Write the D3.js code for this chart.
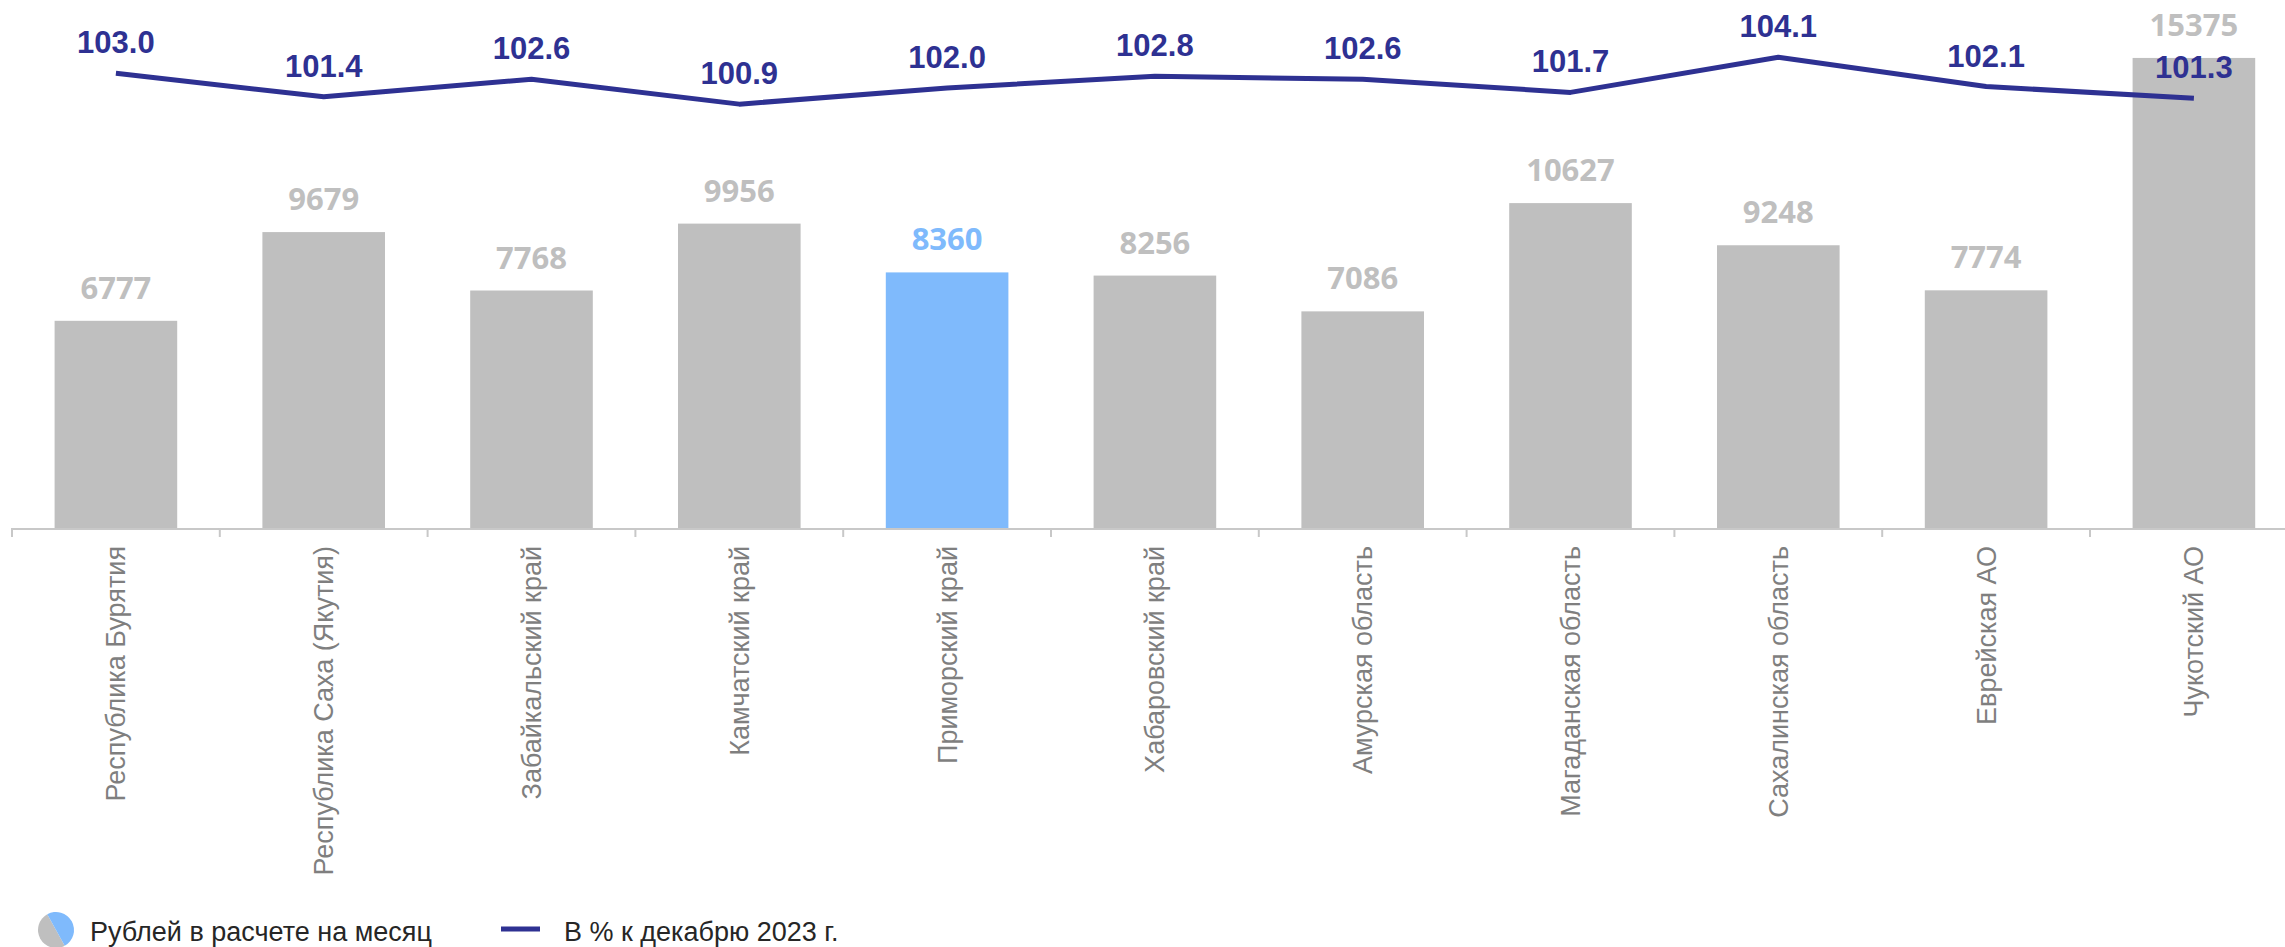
<!DOCTYPE html>
<html lang="ru">
<head>
<meta charset="utf-8">
<title>Рублей в расчете на месяц</title>
<script src="https://cdn.jsdelivr.net/npm/d3@7"></script>
<style>
  html, body { margin: 0; padding: 0; background: #fff; }
  svg { display: block; }
</style>
</head>
<body>
<script>
var regions = ["Республика Бурятия", "Республика Саха (Якутия)", "Забайкальский край", "Камчатский край",
               "Приморский край", "Хабаровский край", "Амурская область", "Магаданская область",
               "Сахалинская область", "Еврейская АО", "Чукотский АО"];
var rubles = [6777, 9679, 7768, 9956, 8360, 8256, 7086, 10627, 9248, 7774, 15375];
var percentDec = [103.0, 101.4, 102.6, 100.9, 102.0, 102.8, 102.6, 101.7, 104.1, 102.1, 101.3];
var highlight = "Приморский край";
var legendLabels = ["Рублей в расчете на месяц", "В % к декабрю 2023 г."];

var width = 2285, height = 947;
var baseY = 528;
var gray = "#bfbfbf", blue = "#7fbafc", navy = "#2e3192";

var svg = d3.select("body").append("svg")
    .attr("width", width)
    .attr("height", height);

var x = d3.scaleBand()
    .domain(regions)
    .range([12, 12 + 11 * 207.8])
    .paddingInner(0.41)
    .paddingOuter(0.205);

var y = d3.scaleLinear().domain([0, 17270]).range([baseY, 0]);
var y2 = d3.scaleLinear().domain([72, 108]).range([baseY, 0]);

// bars
svg.selectAll("rect.bar")
    .data(rubles)
    .enter()
    .append("rect")
    .attr("class", "bar")
    .attr("x", function(d, i){ return x(regions[i]); })
    .attr("y", function(d){ return y(d); })
    .attr("width", x.bandwidth())
    .attr("height", function(d){ return baseY - y(d); })
    .attr("fill", function(d, i){ return regions[i] == highlight ? blue : gray; });

// bar labels
svg.selectAll("text.barlab")
    .data(rubles)
    .enter()
    .append("text")
    .attr("class", "barlab")
    .attr("x", function(d, i){ return x(regions[i]) + x.bandwidth() / 2; })
    .attr("y", function(d){ return y(d) - 22; })
    .attr("text-anchor", "middle")
    .attr("font-family", "'Open Sans', sans-serif")
    .attr("font-weight", "bold")
    .attr("font-size", "31px")
    .attr("fill", function(d, i){ return regions[i] == highlight ? blue : gray; })
    .text(function(d){ return d; });

// axis
var xAxis = d3.axisBottom(x).tickSize(0).tickPadding(0);
var ax = svg.append("g")
    .attr("transform", "translate(0," + baseY + ")")
    .call(xAxis);
ax.select(".domain").remove();
ax.selectAll("text")
    .attr("transform", "rotate(-90)")
    .attr("text-anchor", "end")
    .attr("x", -18)
    .attr("y", 0)
    .attr("dy", "0.35em")
    .attr("font-family", "'Liberation Sans', Arial, sans-serif")
    .attr("font-size", "27px")
    .attr("fill", "#7f7f7f");

svg.append("line")
    .attr("x1", x.range()[0] - 1)
    .attr("x2", width)
    .attr("y1", baseY + 1)
    .attr("y2", baseY + 1)
    .attr("stroke", "#c8c8c8")
    .attr("stroke-width", 2);

svg.selectAll("line.tick")
    .data(regions)
    .enter()
    .append("line")
    .attr("class", "tick")
    .attr("x1", function(d){ return x(d) + x.bandwidth() / 2 - x.step() / 2; })
    .attr("x2", function(d){ return x(d) + x.bandwidth() / 2 - x.step() / 2; })
    .attr("y1", baseY)
    .attr("y2", baseY + 9)
    .attr("stroke", "#c8c8c8")
    .attr("stroke-width", 2);

// line series
var line = d3.line()
    .x(function(d, i){ return x(regions[i]) + x.bandwidth() / 2; })
    .y(function(d){ return y2(d); });

svg.append("path")
    .datum(percentDec)
    .attr("d", line)
    .attr("fill", "none")
    .attr("stroke", navy)
    .attr("stroke-width", 5)
    .attr("stroke-linejoin", "round");

svg.selectAll("text.linelab")
    .data(percentDec)
    .enter()
    .append("text")
    .attr("class", "linelab")
    .attr("x", function(d, i){ return x(regions[i]) + x.bandwidth() / 2; })
    .attr("y", function(d){ return y2(d) - 20; })
    .attr("text-anchor", "middle")
    .attr("font-family", "'Liberation Sans', Arial, sans-serif")
    .attr("font-weight", "bold")
    .attr("font-size", "31px")
    .attr("fill", navy)
    .text(function(d){ return d.toFixed(1); });

// legend
var leg = svg.append("g");
var arc = d3.arc().innerRadius(0).outerRadius(18);
var deg = Math.PI / 180;
leg.append("path")
    .attr("transform", "translate(56,930)")
    .attr("d", arc({startAngle: 151 * deg, endAngle: 331 * deg}))
    .attr("fill", gray);
leg.append("path")
    .attr("transform", "translate(56,930)")
    .attr("d", arc({startAngle: -29 * deg, endAngle: 151 * deg}))
    .attr("fill", blue);
leg.append("text")
    .attr("x", 90)
    .attr("y", 941)
    .attr("font-family", "'Liberation Sans', Arial, sans-serif")
    .attr("font-size", "27px")
    .attr("fill", "#262626")
    .text(legendLabels[0]);

leg.append("line")
    .attr("x1", 501).attr("x2", 540)
    .attr("y1", 929).attr("y2", 929)
    .attr("stroke", navy)
    .attr("stroke-width", 5);
leg.append("text")
    .attr("x", 564)
    .attr("y", 941)
    .attr("font-family", "'Liberation Sans', Arial, sans-serif")
    .attr("font-size", "27px")
    .attr("fill", "#262626")
    .text(legendLabels[1]);
</script>
</body>
</html>
